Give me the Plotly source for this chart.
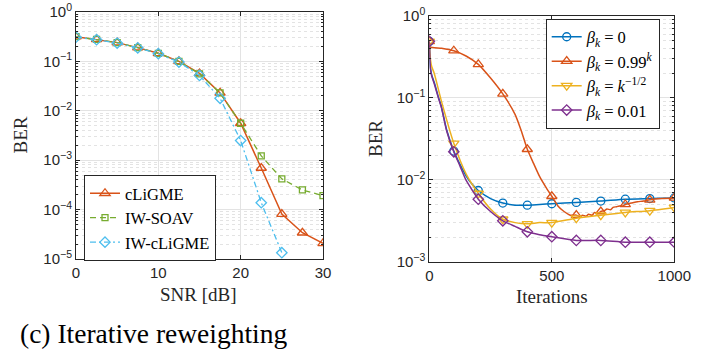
import plotly.graph_objects as go

# ---------------- data: left panel (BER vs SNR) ----------------
snr = [0, 2.5, 5, 7.5, 10, 12.5, 15, 17.5, 20, 22.5, 25, 27.5, 30]
ber_cligme = [0.316, 0.28, 0.24, 0.19, 0.146, 0.100, 0.057, 0.023, 0.0056, 6.95e-4, 8.1e-5, 3.4e-5, 2.08e-5]
ber_iw_soav = [0.316, 0.28, 0.24, 0.19, 0.146, 0.100, 0.056, 0.023, 0.0056, 1.22e-3, 4.2e-4, 2.5e-4, 1.91e-4]
snr_iw_cligme = [0, 2.5, 5, 7.5, 10, 12.5, 15, 17.5, 20, 22.5, 25]
ber_iw_cligme = [0.31, 0.275, 0.235, 0.188, 0.143, 0.097, 0.052, 0.0179, 0.0025, 1.38e-4, 1.34e-5]

# ---------------- data: right panel (BER vs iterations) ----------------
it_b0 = [0, 2, 5, 10, 20, 37, 50, 71, 100, 125, 150, 175, 200, 250, 300, 350, 400, 450, 500, 600, 700, 800, 900, 1000]
ber_b0 = [0.49, 0.33, 0.23, 0.19, 0.155, 0.103, 0.077, 0.0405, 0.0224, 0.0155, 0.0112, 0.0088, 0.0074, 0.0059, 0.0052, 0.0049, 0.0049, 0.0050, 0.0051, 0.0053, 0.0055, 0.0058, 0.0059, 0.0060]

it_b099 = [0, 2, 50, 100, 150, 200, 250, 300, 350, 375, 400, 425, 450, 475, 500, 525, 550, 575, 600, 615, 625, 640, 650, 665, 675, 690, 700, 715, 725, 740, 750, 765, 775, 790, 800, 825, 850, 875, 900, 950, 1000]
ber_b099 = [0.49, 0.42, 0.405, 0.377, 0.325, 0.257, 0.175, 0.112, 0.063, 0.040, 0.0236, 0.016, 0.011, 0.0082, 0.0063, 0.0048, 0.0041, 0.0037, 0.0037, 0.00355, 0.0037, 0.0036, 0.0038, 0.0037, 0.0040, 0.0039, 0.0041, 0.0042, 0.0044, 0.0043, 0.0046, 0.0047, 0.0048, 0.0048, 0.0050, 0.0052, 0.0054, 0.0055, 0.0057, 0.0059, 0.0060]

it_bsqrt = [0, 2, 5, 10, 20, 50, 100, 150, 200, 250, 300, 350, 400, 450, 500, 600, 700, 800, 900, 1000]
ber_bsqrt = [0.49, 0.36, 0.29, 0.24, 0.2, 0.09, 0.0279, 0.0118, 0.0068, 0.0044, 0.0033, 0.0030, 0.0029, 0.0030, 0.0030, 0.0034, 0.0037, 0.0040, 0.0042, 0.0046]

it_b001 = [0, 2, 5, 10, 20, 37, 50, 71, 100, 125, 150, 175, 200, 250, 300, 350, 400, 450, 500, 600, 700, 800, 900, 1000]
ber_b001 = [0.49, 0.33, 0.22, 0.185, 0.15, 0.10, 0.075, 0.0395, 0.022, 0.0148, 0.0099, 0.0075, 0.0058, 0.0041, 0.00316, 0.0027, 0.00232, 0.00214, 0.00202, 0.00182, 0.00182, 0.00173, 0.00173, 0.00173]

legend_left = ["cLiGME", "IW-SOAV", "IW-cLiGME"]
legend_right = [
    "<i>β</i><sub><i>k</i></sub> = 0",
    "<i>β</i><sub><i>k</i></sub> = 0.99<sup><i>k</i></sup>",
    "<i>β</i><sub><i>k</i></sub> = <i>k</i><sup>−1/2</sup>",
    "<i>β</i><sub><i>k</i></sub> = 0.01",
]

C_BLUE, C_RED, C_YEL, C_PUR = "#0072BD", "#D95319", "#EDB120", "#7E2F8E"
C_GRN, C_CYN = "#77AC30", "#4DBEEE"

W, H = 718, 356
SERIF = "Liberation Serif, DejaVu Serif, serif"
SANS = "Liberation Sans, Arial, sans-serif"

fig = go.Figure()

# ---- left panel traces ----
fig.add_trace(go.Scatter(x=snr, y=ber_cligme, name=legend_left[0], mode="lines+markers",
                         line=dict(color=C_RED, width=1.5),
                         marker=dict(symbol="triangle-up-open", size=9, color=C_RED, line=dict(width=1.3)),
                         xaxis="x", yaxis="y", legend="legend"))
fig.add_trace(go.Scatter(x=snr, y=ber_iw_soav, name=legend_left[1], mode="lines+markers",
                         line=dict(color=C_GRN, width=1.3, dash="6px,4px"),
                         marker=dict(symbol="square-open", size=6, color=C_GRN, line=dict(width=1.3)),
                         xaxis="x", yaxis="y", legend="legend"))
fig.add_trace(go.Scatter(x=snr_iw_cligme, y=ber_iw_cligme, name=legend_left[2], mode="lines+markers",
                         line=dict(color=C_CYN, width=1.3, dash="6px,3px,2px,3px"),
                         marker=dict(symbol="diamond-open", size=8, color=C_CYN, line=dict(width=1.3)),
                         xaxis="x", yaxis="y", legend="legend"))

# ---- right panel traces ----
right_series = [
    (it_b0, ber_b0, C_BLUE, "circle-open", 8),
    (it_b099, ber_b099, C_RED, "triangle-up-open", 9),
    (it_bsqrt, ber_bsqrt, C_YEL, "triangle-down-open", 9),
    (it_b001, ber_b001, C_PUR, "diamond-open", 8),
]
for (xs, ys, col, sym, ms), nm in zip(right_series, legend_right):
    fig.add_trace(go.Scatter(x=xs, y=ys, mode="lines", line=dict(color=col, width=1.5, shape="spline", smoothing=0.6),
                             showlegend=False, hoverinfo="skip", xaxis="x2", yaxis="y2"))
    mx = [x for x in xs if x % 100 == 0]
    my = [y for x, y in zip(xs, ys) if x % 100 == 0]
    fig.add_trace(go.Scatter(x=mx, y=my, mode="markers",
                             marker=dict(symbol=sym, size=ms, color=col, line=dict(width=1.3)),
                             showlegend=False, xaxis="x2", yaxis="y2"))
    fig.add_trace(go.Scatter(x=[None], y=[None], name=nm, mode="lines+markers",
                             line=dict(color=col, width=1.5),
                             marker=dict(symbol=sym, size=ms, color=col, line=dict(width=1.3)),
                             xaxis="x2", yaxis="y2", legend="legend2"))

AX = "#262626"
GRID = "#e3e3e3"
MINOR_GRID = "#e3e3e3"

def xaxis(domain, rng, tickvals, anchor):
    return dict(domain=domain, range=rng, tickvals=tickvals, anchor=anchor, automargin=False,
                showline=True, linecolor=AX, linewidth=1, mirror="ticks",
                ticks="inside", ticklen=4, tickcolor=AX,
                showgrid=True, gridcolor=GRID, gridwidth=1, zeroline=False,
                tickfont=dict(family=SANS, size=15, color=AX))

def yaxis(domain, exps, anchor):
    lo, hi = min(exps), max(exps)
    minor_vals = [m * 10.0 ** e for e in range(lo, hi) for m in range(2, 10)]
    return dict(domain=domain, type="log", range=[lo, hi], anchor=anchor, automargin=False,
                tickmode="array",
                tickvals=[10.0 ** e for e in exps],
                ticktext=["10<sup>%s</sup>" % (str(e).replace("-", "−")) for e in exps],
                showline=True, linecolor=AX, linewidth=1, mirror="ticks",
                ticks="inside", ticklen=4, tickcolor=AX,
                showgrid=True, gridcolor=GRID, gridwidth=1, zeroline=False,
                minor=dict(tickmode="array", tickvals=minor_vals, ticks="inside", ticklen=2,
                           tickcolor=AX, showgrid=True,
                           gridcolor=MINOR_GRID, griddash="dot", gridwidth=1),
                tickfont=dict(family=SANS, size=15, color=AX))

fig.update_layout(
    width=W, height=H, margin=dict(l=0, r=0, t=0, b=0, autoexpand=False),
    paper_bgcolor="white", plot_bgcolor="white",
    xaxis=xaxis([76 / W, 323 / W], [0, 30], [0, 10, 20, 30], "y"),
    yaxis=yaxis([1 - 259 / H, 1 - 12 / H], [0, -1, -2, -3, -4, -5], "x"),
    xaxis2=xaxis([429.3 / W, 674.3 / W], [0, 1000], [0, 500, 1000], "y2"),
    yaxis2=yaxis([1 - 261.7 / H, 1 - 16 / H], [0, -1, -2, -3], "x2"),
    legend=dict(x=84 / W, y=1 - 175 / H, xanchor="left", yanchor="top",
                bgcolor="white", bordercolor=AX, borderwidth=1,
                font=dict(family=SERIF, size=16.5, color="#000"), itemwidth=30, tracegroupgap=0),
    legend2=dict(x=545.7 / W, y=1 - 18.5 / H, xanchor="left", yanchor="top",
                 bgcolor="white", bordercolor=AX, borderwidth=1,
                 font=dict(family=SERIF, size=16.5, color="#000"), itemwidth=30, tracegroupgap=0),
    showlegend=True,
)

ann = [
    dict(text="BER", x=20 / W, y=1 - 135.5 / H, textangle=-90, font=dict(size=19)),
    dict(text="SNR [dB]", x=199 / W, y=1 - 294 / H, font=dict(size=19)),
    dict(text="BER", x=375 / W, y=1 - 139 / H, textangle=-90, font=dict(size=19)),
    dict(text="Iterations", x=551.7 / W, y=1 - 296.5 / H, font=dict(size=19)),
    dict(text="(c) Iterative reweighting", x=153 / W, y=1 - 333 / H, font=dict(size=27.5)),
]
for a in ann:
    a["font"].update(family=SERIF, color="#000" if "Iterative" in a["text"] else AX)
    fig.add_annotation(xref="paper", yref="paper", xanchor="center", yanchor="middle",
                       showarrow=False, **a)

fig.write_html("out.html", config={"displayModeBar": False},
               post_script="document.body.style.margin='0px';")
